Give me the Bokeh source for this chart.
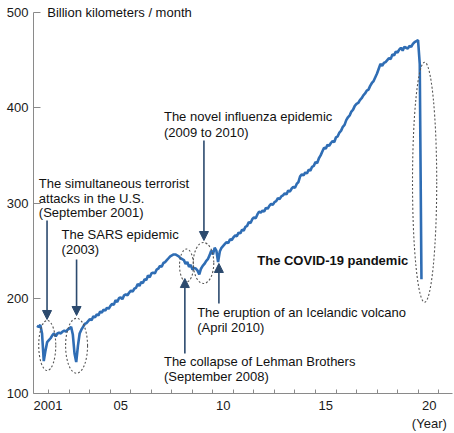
from bokeh.plotting import figure
from bokeh.models import (FixedTicker, Label, Arrow, NormalHead, Range1d, ColumnDataSource)
from bokeh.embed import file_html
from bokeh.resources import INLINE

# ---- data: monthly values, June 2001 .. March 2020 (billion km / month)
start_year = 2001
start_month = 6
values_2001 = [171, 170, 172, 163, 134, 145, 154]
values_2002 = [156, 158, 161, 163, 160, 163, 164, 163, 165, 166, 165, 167]
values_2003 = [168, 170, 162, 142, 133, 150, 163, 167, 170, 173, 174, 176]
values_2004 = [178, 177, 181, 180, 183, 182, 186, 185, 188, 187, 190, 189]
values_2005 = [192, 194, 193, 198, 196, 200, 201, 199, 203, 204, 203, 206]
values_2006 = [208, 207, 210, 211, 215, 213, 217, 216, 220, 219, 224, 222]
values_2007 = [226, 227, 226, 230, 231, 234, 233, 237, 238, 240, 242, 244]
values_2008 = [245, 246, 246, 245, 244, 242, 241, 240, 236, 238, 233, 235]
values_2009 = [230, 232, 231, 229, 225, 231, 234, 236, 239, 241, 245, 250]
values_2010 = [246, 253, 250, 238, 249, 253, 255, 257, 259, 258, 262, 261]
values_2011 = [264, 266, 265, 269, 268, 272, 271, 275, 276, 280, 279, 283]
values_2012 = [285, 284, 288, 291, 290, 292, 291, 295, 294, 297, 299, 298]
values_2013 = [301, 302, 305, 304, 307, 308, 310, 309, 313, 312, 315, 317]
values_2014 = [316, 320, 322, 328, 330, 329, 332, 331, 335, 334, 338, 339]
values_2015 = [343, 342, 347, 350, 354, 358, 357, 361, 360, 363, 365, 364]
values_2016 = [369, 370, 374, 376, 380, 382, 387, 390, 392, 396, 398, 402]
values_2017 = [404, 405, 408, 410, 413, 415, 418, 419, 423, 426, 428, 432]
values_2018 = [436, 441, 446, 444, 447, 448, 450, 452, 451, 456, 455, 459]
values_2019 = [458, 461, 463, 460, 464, 463, 462, 465, 464, 467, 469, 470]
values_2020 = [471, 446, 220]

values = (values_2001 + values_2002 + values_2003 + values_2004 + values_2005 +
          values_2006 + values_2007 + values_2008 + values_2009 + values_2010 +
          values_2011 + values_2012 + values_2013 + values_2014 + values_2015 +
          values_2016 + values_2017 + values_2018 + values_2019 + values_2020)
times = [start_year + (start_month - 1 + i) / 12 for i in range(len(values))]

y_ticks = [100, 200, 300, 400, 500]
x_label_pos = [2001.96, 2005.5, 2010.5, 2015.5, 2020.55]
x_label_txt = ["2001", "05", "10", "15", "20\n(Year)"]
year_marks = list(range(2002, 2022))

FONT = "Liberation Sans"
FS = "13px"
LINE = "#2f6db4"
ARROW = "#2c4a6e"

p = figure(width=454, height=433, output_backend="svg", toolbar_location=None,
           x_range=Range1d(2001.25, 2021.68), y_range=Range1d(100, 508.4),
           min_border_left=33, min_border_right=2, min_border_top=4, min_border_bottom=40)
p.outline_line_color = None
p.grid.grid_line_color = None
p.background_fill_color = "white"

src = ColumnDataSource(dict(t=times, v=values))
p.line("t", "v", source=src, line_color=LINE, line_width=2.6)

# axes
for ax in (p.xaxis[0], p.yaxis[0]):
    ax.axis_line_color = "#8a8a8a"
    ax.major_tick_line_color = "#8a8a8a"
    ax.minor_tick_line_color = "#8a8a8a"
    ax.major_label_text_font = FONT
    ax.major_label_text_font_size = FS
    ax.major_label_text_color = "#1a1a1a"
    ax.major_tick_out = 0
    ax.minor_tick_out = 0

p.yaxis.ticker = FixedTicker(ticks=y_ticks, minor_ticks=[])
p.yaxis.bounds = (100, 500)
p.yaxis.major_tick_in = 7
p.yaxis.major_label_standoff = 5

p.xaxis.ticker = FixedTicker(ticks=x_label_pos, minor_ticks=year_marks)
p.xaxis.major_label_overrides = {k: v for k, v in zip(x_label_pos, x_label_txt)}
p.xaxis.major_tick_in = 0
p.xaxis.minor_tick_in = 4
p.xaxis.major_label_standoff = 4

# dotted ellipses (center x, center y, width, height in data units)
ell_x = [2001.92, 2003.35, 2008.71, 2009.54, 2020.32]
ell_y = [150.4, 150.1, 234.4, 237.0, 321.8]
ell_w = [0.83, 1.07, 0.68, 1.0, 1.18]
ell_h = [52.5, 57.7, 34.6, 43.0, 252.0]
p.ellipse(x=ell_x, y=ell_y, width=ell_w, height=ell_h, fill_color=None,
          line_color="#555555", line_width=1.1, line_dash="2 2")

# arrows (x, y_start, y_end)
arrows = [
    (2001.91, 281.6, 177.7),
    (2003.35, 240.7, 181.9),
    (2009.56, 365.6, 260.6),
    (2008.63, 142.0, 220.7),
    (2010.29, 194.5, 236.5),
]
for ax_, y0, y1 in arrows:
    p.add_layout(Arrow(x_start=ax_, y_start=y0, x_end=ax_, y_end=y1,
                       line_color=ARROW, line_width=1.6,
                       end=NormalHead(size=9, fill_color=ARROW, line_color=ARROW)))

# texts
texts = [
    (2001.51, 320.5, "The simultaneous terrorist", "normal"),
    (2001.51, 305.2, "attacks in the U.S.", "normal"),
    (2001.51, 290.0, "(September 2001)", "normal"),
    (2002.62, 266.9, "The SARS epidemic", "normal"),
    (2002.62, 251.2, "(2003)", "normal"),
    (2007.61, 390.8, "The novel influenza epidemic", "normal"),
    (2007.61, 374.5, "(2009 to 2010)", "normal"),
    (2012.16, 239.6, "The COVID-19 pandemic", "bold"),
    (2009.23, 185.4, "The eruption of an Icelandic volcano", "normal"),
    (2009.23, 169.3, "(April 2010)", "normal"),
    (2007.61, 133.9, "The collapse of Lehman Brothers", "normal"),
    (2007.61, 117.8, "(September 2008)", "normal"),
    (2001.92, 500.0, "Billion kilometers / month", "normal"),
]
for tx, ty, t, st in texts:
    p.add_layout(Label(x=tx, y=ty, text=t, text_font=FONT, text_font_size=FS,
                       text_font_style=st, text_baseline="middle", text_align="left",
                       text_color="#111111"))

open("out.html", "w").write(file_html(p, INLINE))
